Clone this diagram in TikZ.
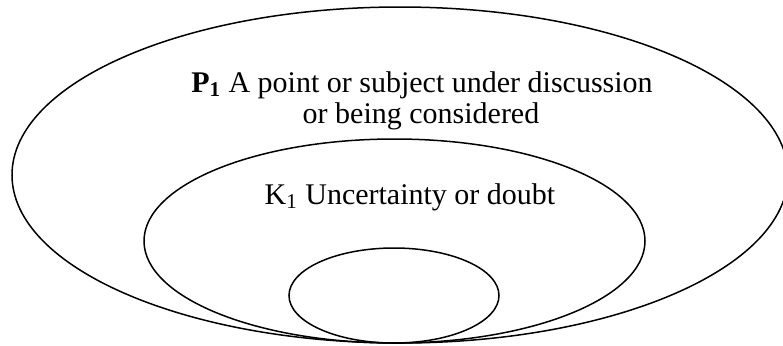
\documentclass[tikz,border=0pt]{standalone}
\usepackage{fontspec}
\setmainfont{Liberation Serif}
\usepackage{tikz}
\usetikzlibrary{shapes.geometric}
\tikzset{
  ring/.style={draw, ellipse, line width=0.75pt, inner sep=0pt},
  lbl/.style={font=\fontsize{15}{17}\selectfont, inner sep=0pt, anchor=base}
}

\begin{document}
\begin{tikzpicture}[x=0.5pt, y=-0.5pt]
\useasboundingbox (0,0) rectangle (783,345);
\clip (0,0) rectangle (783,345);
\node[ring, minimum width=388pt, minimum height=168pt] (outer) at (400,175) {};
\node[ring, minimum width=250.5pt, minimum height=102pt] (middle) at (394.5,241) {};
\node[ring, minimum width=105pt, minimum height=47.5pt] (inner) at (394,295.5) {};
\node[lbl] (p1a) at (422,92) {\textbf{P\textsubscript{1}} A point or subject under discussion};
\node[lbl] (p1b) at (421,123) {or being considered};
\node[lbl] (k1) at (410,204) {K\textsubscript{1} Uncertainty or doubt};
\end{tikzpicture}
\end{document}
